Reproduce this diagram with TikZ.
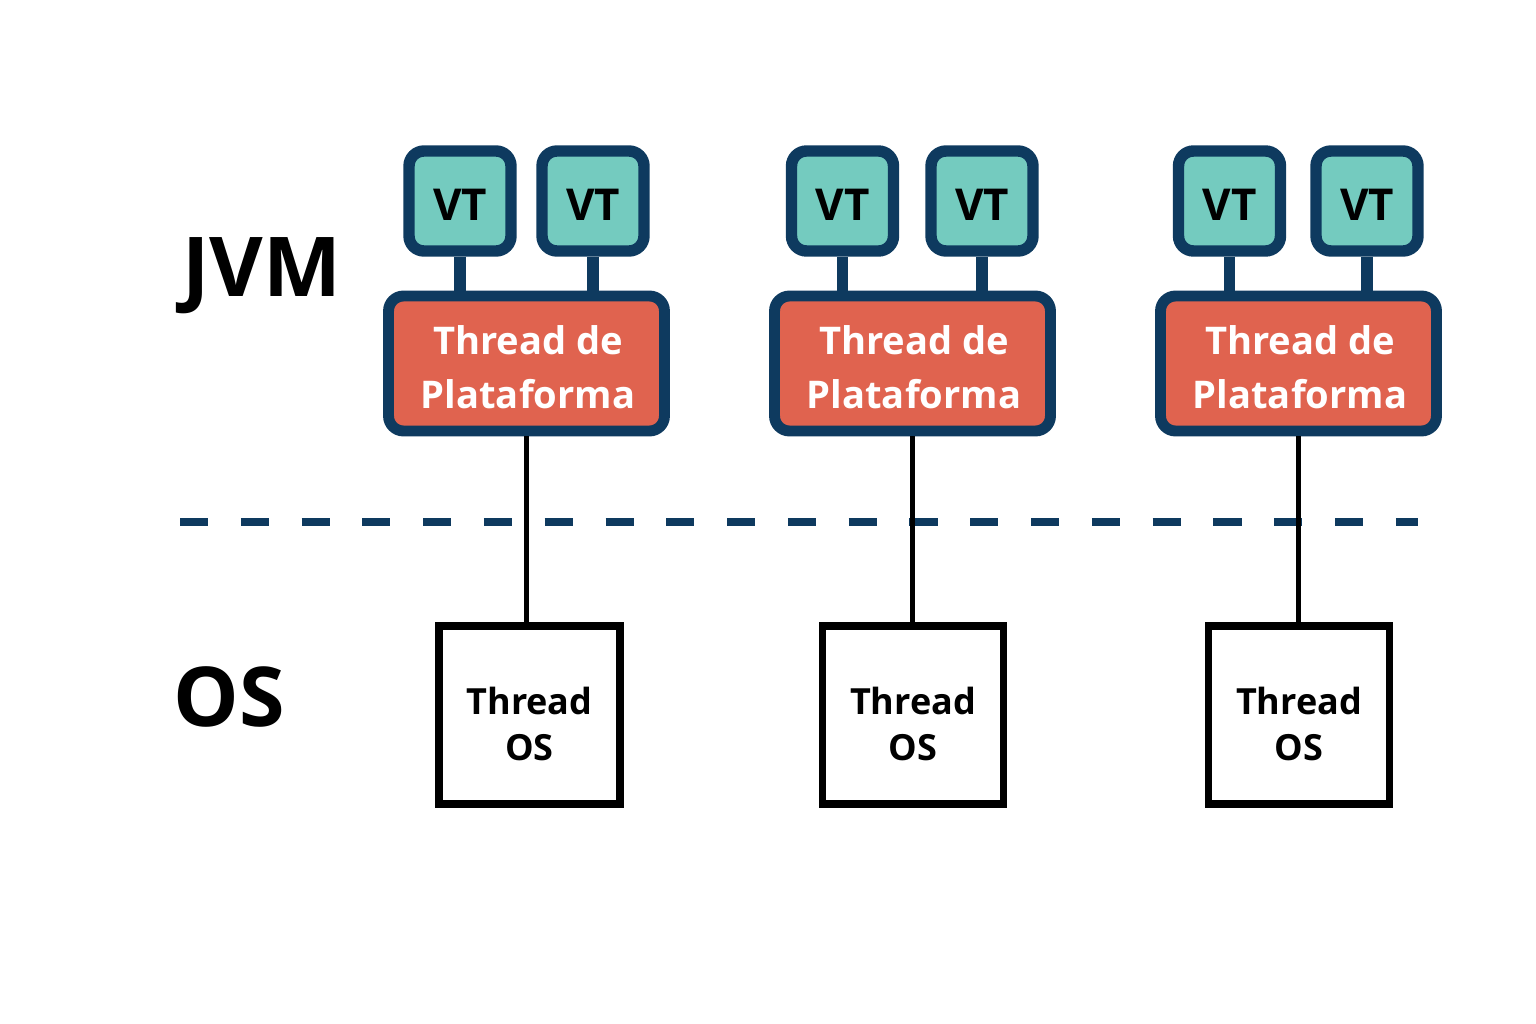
\documentclass[tikz,border=0pt]{standalone}
\usepackage{fontspec}
\setmainfont{Open Sans}
\definecolor{navy}{HTML}{0E3A5F}
\definecolor{vtteal}{HTML}{74CBBF}
\definecolor{platred}{HTML}{E0634F}
\begin{document}
\begin{tikzpicture}[x=0.02cm,y=-0.02cm,
  vtbox/.style={draw=navy,fill=vtteal,line width=6.5pt,rounded corners=0.3cm,
    minimum width=2.04cm,minimum height=2.0cm,inner sep=0pt},
  vttext/.style={font=\fontsize{25}{28}\selectfont\bfseries},
  platbox/.style={draw=navy,fill=platred,line width=6.2pt,rounded corners=0.3cm,
    minimum width=5.52cm,minimum height=2.7cm,inner sep=0pt},
  plattext/.style={align=center,text=white,font=\fontsize{21.7}{30.6}\selectfont\bfseries},
  osbox/.style={draw=black,fill=white,line width=4.5pt,
    minimum width=3.62cm,minimum height=3.56cm,inner sep=0pt},
  ostext/.style={align=center,font=\fontsize{20.5}{26.7}\selectfont\bfseries},
  vtlink/.style={navy,line width=6.5pt},
  oslink/.style={black,line width=3.2pt},
  layer/.style={font=\fontsize{47}{50}\selectfont\bfseries}]

\useasboundingbox (0,0) rectangle (1536,1024);

% layer names
\node[layer] (jvm) at (262,276) {JVM};
\node[layer] (os) at (229,697) {OS};

% separation between JVM and OS
\coordinate (sepl) at (180,522);
\coordinate (sepr) at (1418,522);
\draw[navy,line width=5pt,dash pattern=on 16pt off 18.6pt] (sepl) -- (sepr);

%% first group
\node[platbox] (p1) at (526.5,363.5) {};
\node[plattext] (pt1) at (528,367) {Thread de\\Plataforma};
\node[vtbox] (va1) at (460,201) {};
\node[vtbox] (vb1) at (593,201) {};
\node[vttext] (ta1) at (460,205) {VT};
\node[vttext] (tb1) at (593,205) {VT};
\node[osbox] (o1) at (529.5,715) {};
\node[ostext] (t1) at (529.5,724) {Thread\\OS};
\draw[vtlink] (va1.south) -- (va1.south |- p1.north);
\draw[vtlink] (vb1.south) -- (vb1.south |- p1.north);
\draw[oslink] (p1.south) -- (p1.south |- o1.north);

%% second group
\node[platbox] (p2) at (912.5,363.5) {};
\node[plattext] (pt2) at (914,367) {Thread de\\Plataforma};
\node[vtbox] (va2) at (842.5,201) {};
\node[vtbox] (vb2) at (982,201) {};
\node[vttext] (ta2) at (842.5,205) {VT};
\node[vttext] (tb2) at (982,205) {VT};
\node[osbox] (o2) at (913,715) {};
\node[ostext] (t2) at (913,724) {Thread\\OS};
\draw[vtlink] (va2.south) -- (va2.south |- p2.north);
\draw[vtlink] (vb2.south) -- (vb2.south |- p2.north);
\draw[oslink] (p2.south) -- (p2.south |- o2.north);

%% third group
\node[platbox] (p3) at (1298.5,363.5) {};
\node[plattext] (pt3) at (1300,367) {Thread de\\Plataforma};
\node[vtbox] (va3) at (1229.5,201) {};
\node[vtbox] (vb3) at (1367,201) {};
\node[vttext] (ta3) at (1229.5,205) {VT};
\node[vttext] (tb3) at (1367,205) {VT};
\node[osbox] (o3) at (1299,715) {};
\node[ostext] (t3) at (1299,724) {Thread\\OS};
\draw[vtlink] (va3.south) -- (va3.south |- p3.north);
\draw[vtlink] (vb3.south) -- (vb3.south |- p3.north);
\draw[oslink] (p3.south) -- (p3.south |- o3.north);

\end{tikzpicture}
\end{document}
